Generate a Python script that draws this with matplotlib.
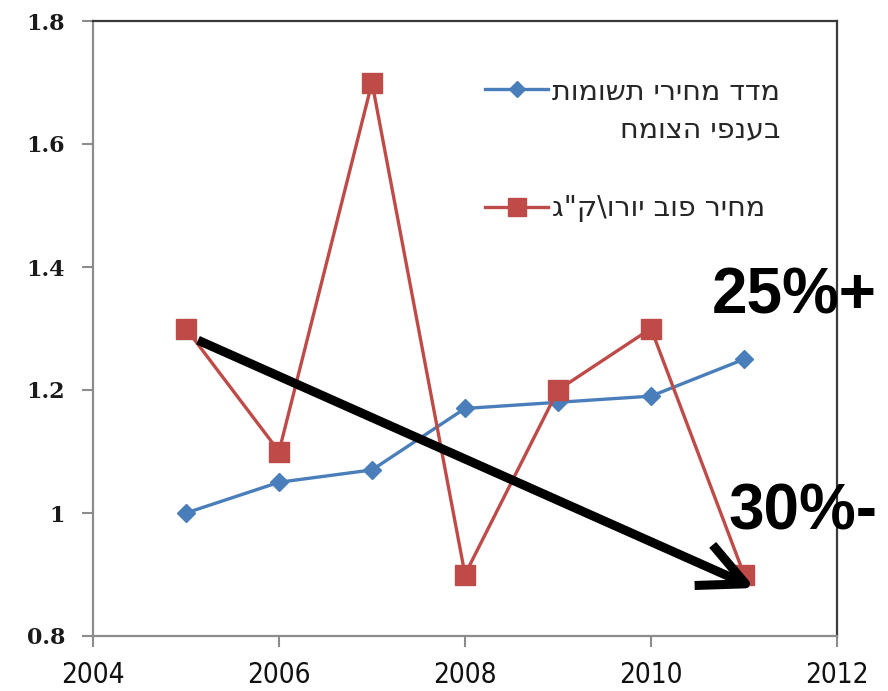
import matplotlib
matplotlib.use("Agg")
import matplotlib.pyplot as plt
from matplotlib import font_manager
from matplotlib.legend_handler import HandlerLine2D

years = [2005, 2006, 2007, 2008, 2009, 2010, 2011]
input_index = [1.00, 1.05, 1.07, 1.17, 1.18, 1.19, 1.25]
fob_price = [1.30, 1.10, 1.70, 0.90, 1.20, 1.30, 0.90]

label_index = "מדד מחירי תשומות\nבענפי הצומח"
label_fob = 'מחיר פוב יורו\\ק"ג'
x_ticks = [2004, 2006, 2008, 2010, 2012]
y_ticks = [0.8, 1.0, 1.2, 1.4, 1.6, 1.8]
y_tick_labels = ["0.8", "1", "1.2", "1.4", "1.6", "1.8"]

def visual(s):
    # reverse each line for right-to-left display
    return "\n".join(line[::-1] for line in s.split("\n"))

class ShiftedHandler(HandlerLine2D):
    """Legend key aligned with the first line of a two-line label."""
    def __init__(self, dy, **kw):
        super().__init__(**kw)
        self.dy = dy

    def create_artists(self, legend, orig_handle, xdescent, ydescent,
                       width, height, fontsize, trans):
        artists = super().create_artists(legend, orig_handle, xdescent, ydescent,
                                         width, height, fontsize, trans)
        for a in artists:
            a.set_ydata([y + self.dy for y in a.get_ydata()])
        return artists

names = {f.name for f in font_manager.fontManager.ttflist}
if "Liberation Sans Narrow" in names:
    xfont = dict(fontfamily="Liberation Sans Narrow", fontsize=22)
else:
    xfont = dict(fontfamily="DejaVu Sans", fontstretch="condensed", fontsize=20)

BLUE = "#4a7ebb"
RED = "#be4b48"

fig = plt.figure(figsize=(8.88, 6.91), dpi=100)
ax = fig.add_axes([93/888, 1-636/691, 744/888, 615/691])

l1, = ax.plot(years, input_index, color=BLUE, lw=2.4, marker="D", ms=9.5,
              markerfacecolor=BLUE, markeredgecolor=BLUE, label=visual(label_index), zorder=3)
l2, = ax.plot(years, fob_price, color=RED, lw=2.4, marker="s", ms=14.5,
              markerfacecolor=RED, markeredgecolor=RED, label=visual(label_fob), zorder=3)

ax.set_xlim(2004, 2012)
ax.set_ylim(0.8, 1.8)
ax.set_xticks(x_ticks)
ax.set_xticklabels([str(x) for x in x_ticks], color="#111111", **xfont)
ax.set_yticks(y_ticks)
ax.set_yticklabels(y_tick_labels, fontfamily="DejaVu Serif", fontweight="bold", fontsize=16, color="#1a1a1a")
ax.tick_params(axis="x", direction="out", length=8, width=1.5, color="#8c8c8c", pad=10)
ax.tick_params(axis="y", direction="out", length=8, width=1.5, color="#8c8c8c", pad=12)

for s in ["left", "bottom"]:
    ax.spines[s].set_color("#8c8c8c")
    ax.spines[s].set_linewidth(1.6)
for s in ["top", "right"]:
    ax.spines[s].set_color("#3a3a3a")
    ax.spines[s].set_linewidth(1.6)

leg = ax.legend(handles=[l1, l2], loc="upper left", bbox_to_anchor=(0.493, 0.949),
                frameon=False, prop={"family": "DejaVu Sans", "size": 20.5},
                handlelength=2.2, handletextpad=0.15, labelspacing=1.8, markerscale=0.85,
                handler_map={l1: ShiftedHandler(16)})
for t in leg.get_texts():
    t.set_color("#262626")
    t.set_multialignment("right")
    t.set_linespacing(1.42)

ax.annotate("", xy=(2011.118, 0.878), xytext=(2005.129, 1.281),
            arrowprops=dict(arrowstyle="->,head_length=1.65,head_width=0.8",
                            color="black", lw=6.5, mutation_scale=20,
                            shrinkA=0, shrinkB=0, capstyle="butt"),
            zorder=5)

fig.text(712/888, 1-313/691, "25%+", fontfamily="Liberation Sans", fontweight="bold",
         fontsize=46, color="black", ha="left", va="baseline", zorder=10)
fig.text(728/888, 1-530/691, "30%-", fontfamily="Liberation Sans", fontweight="bold",
         fontsize=46, color="black", ha="left", va="baseline", zorder=10)

fig.savefig("out.png", dpi=100)
